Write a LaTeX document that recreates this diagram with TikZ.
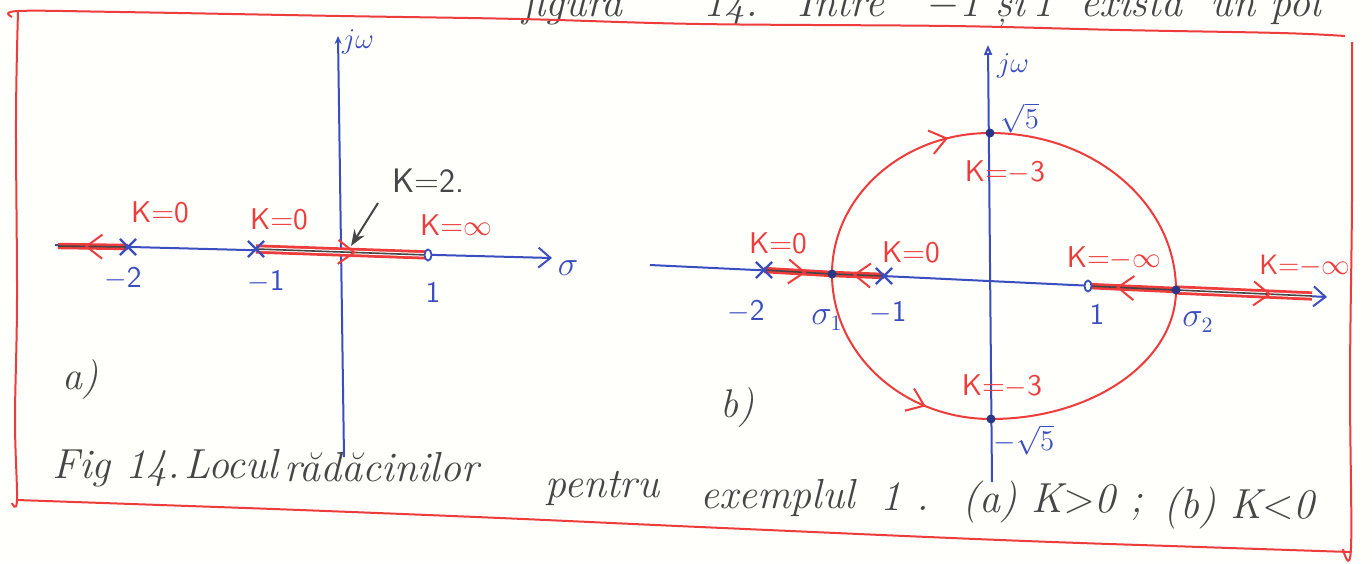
\documentclass[tikz,border=0pt]{standalone}
\usetikzlibrary{arrows.meta,decorations.markings,shapes.misc,shapes.geometric}
\definecolor{axblue}{RGB}{58,78,192}
\definecolor{locred}{RGB}{238,60,60}
\definecolor{ink}{RGB}{70,70,70}
\definecolor{paper}{RGB}{255,255,251}
\pgfdeclarelayer{back}
\pgfdeclarelayer{paperlayer}
\pgfsetlayers{paperlayer,back,main}
\tikzset{
  axisline/.style={axblue, line width=1pt},
  axbarb/.style={-{Straight Barb[length=6pt,width=10pt,line width=1pt]}},
  xmk/.style={cross out, draw=axblue, line width=1.1pt, minimum size=7pt, inner sep=0pt},
  omk/.style={ellipse, draw=axblue, line width=0.9pt, fill=paper, minimum width=3.5pt, minimum height=5.5pt, inner sep=0pt},
  dotmk/.style={circle, fill=axblue!70!black, minimum size=4.5pt, inner sep=0pt},
  bluelbl/.style={text=axblue, font=\sffamily\fontsize{15}{15}\selectfont, inner sep=0pt},
  redlbl/.style={text=locred, font=\sffamily\fontsize{15}{15}\selectfont, inner sep=0pt},
  inklbl/.style={text=ink, font=\itshape\fontsize{21}{21}\selectfont, inner sep=0pt, anchor=base west},
  toplbl/.style={text=ink, font=\itshape\fontsize{21}{21}\selectfont, inner sep=0pt, anchor=base west},
  locus/.style={locred, line width=1pt},
  band/.style={locred, line width=3.2pt},
  core/.style={ink, line width=0.8pt},
  frame/.style={locred, line width=1pt},
  chev/.style={postaction={decorate, decoration={markings,
      mark=at position #1 with {\arrow[locred,line width=1pt]{Straight Barb[length=8pt,width=12pt]}}}}},
}
\begin{document}
\begin{tikzpicture}[x=0.5pt,y=-0.5pt]
\useasboundingbox (0,0) rectangle (1372,563);
\begin{pgfonlayer}{paperlayer}
  \fill[paper] (0,0) rectangle (1372,563);
\end{pgfonlayer}

% text above the frame (cut off by the page edge)
\node[toplbl] (t1) at (522,16) {figura};
\node[toplbl] (t2) at (703,16) {14.};
\node[toplbl] (t3) at (797,16) {Între};
\node[toplbl] (t4) at (927,16) {$-$1 și};
\node[toplbl] (t5) at (1032,16) {1};
\node[toplbl] (t6) at (1080,16) {există};
\node[toplbl] (t7) at (1210,16) {un};
\node[toplbl] (t8) at (1270,16) {pol};

% red frame
\draw[frame] plot[smooth, tension=0.6] coordinates {(12,17) (18,11) (120,12) (340,16) (520,19) (700,24) (950,26) (1120,30) (1280,33) (1345,36)};
\draw[frame] plot[smooth, tension=0.6] coordinates {(18,12) (16,120) (17,300) (15,420) (17,500) (12,503)};
\draw[frame] plot[smooth, tension=0.6] coordinates {(1352,42) (1352,200) (1350,380) (1351,548) (1343,549)};
\draw[frame] plot[smooth, tension=0.6] coordinates {(17,500) (160,505) (300,510) (500,518) (700,527) (1000,540) (1200,547) (1350,552)};

% ---------------- panel a ----------------
\coordinate (aL) at (55,245);
\coordinate (aR) at (552,258);
\coordinate (aB) at (344,457);
\coordinate (aT) at (338,36);
\coordinate (aend) at (58,246);
\node[xmk] (am2) at (128,247) {};
\node[xmk] (am1) at (256,249) {};
\node[omk] (ap1) at (428,255) {};

\begin{pgfonlayer}{back}
  \draw[axisline, axbarb] (aL) -- (aR);
  \draw[axisline, -{Stealth[length=4pt,width=3.5pt]}] (aB) -- (aT);
  \draw[band] (am2.center) -- (aend);
  \draw[core] (am2.center) -- (aend);
  \path[chev=0.62] (am2.center) -- (aend);
  \draw[locred, line width=4.6pt] (am1.center) -- (ap1.center);
  \draw[white, line width=1.8pt] (am1.center) -- (ap1.center);
  \draw[core] (am1.center) -- (ap1.center);
  \path[chev=0.58] (am1.center) -- (ap1.center);
\end{pgfonlayer}

\node[text=axblue, font=\fontsize{14}{14}\selectfont] (ajw) at (358,42) {$j\omega$};
\node[bluelbl] (lm2a) at (123,279) {$-$2};
\node[bluelbl] (lm1a) at (266,282) {$-$1};
\node[bluelbl] (lp1a) at (433,292) {1};
\node[text=axblue, font=\fontsize{16}{16}\selectfont] (sga) at (568,268) {$\sigma$};

\node[redlbl] (ka1) at (160,212) {K=0};
\node[redlbl] (ka2) at (279,219) {K=0};
\node[redlbl] (ka3) at (456,225) {K=$\infty$};
\node[text=ink, font=\sffamily\fontsize{17}{17}\selectfont] (k2) at (428,181) {K=2.};
\coordinate (k2tip) at (351,246);
\draw[ink, line width=1pt, -{Stealth[length=8pt,width=6pt]}] (378,203) -- (k2tip);
\node[text=ink, font=\itshape\fontsize{20}{20}\selectfont] (alab) at (80,380) {a)};

% ---------------- panel b ----------------
\coordinate (bL) at (650,265);
\coordinate (bR) at (1327,297);
\coordinate (bB) at (992,482);
\coordinate (bT) at (988,45);
\coordinate (bend) at (1312,296);
\node[xmk] (bm2) at (764,270) {};
\node[dotmk] (s1) at (832,274) {};
\node[xmk] (bm1) at (884,276) {};
\node[omk] (bp1) at (1088,286) {};
\node[dotmk] (s2) at (1176,290) {};
\node[dotmk] (btop) at (990,133) {};
\node[dotmk] (bbot) at (991,419) {};

\begin{pgfonlayer}{back}
  \draw[axisline, axbarb] (bL) -- (bR);
  \draw[axisline, -{Triangle[open,length=5pt,width=4pt]}] (bB) -- (bT);
  % root-locus circle
  \draw[locus, chev=0.82] (s1.center) .. controls +(0,-78) and +(-87,0) .. (btop.center);
  \draw[locus] (btop.center) .. controls +(103,0) and +(0,-87) .. (s2.center);
  \draw[locus, chev=0.72] (s1.center) .. controls +(0,80) and +(-88,0) .. (bbot.center);
  \draw[locus] (bbot.center) .. controls +(102,0) and +(0,71) .. (s2.center);
  % real-axis branches
  \draw[band] (bm2.center) -- (s1.center);
  \draw[core] (bm2.center) -- (s1.center);
  \path[chev=0.62] (bm2.center) -- (s1.center);
  \draw[band] (bm1.center) -- (s1.center);
  \draw[core] (bm1.center) -- (s1.center);
  \path[chev=0.6] (bm1.center) -- (s1.center);
  \draw[band] (s2.center) -- (bp1.center);
  \draw[core] (s2.center) -- (bp1.center);
  \path[chev=0.68] (s2.center) -- (bp1.center);
  \draw[locred, line width=4.6pt] (s2.center) -- (bend);
  \draw[white, line width=1.8pt] (s2.center) -- (bend);
  \draw[core] (s2.center) -- (bend);
  \path[chev=0.7] (s2.center) -- (bend);
\end{pgfonlayer}

\node[text=axblue, font=\fontsize{14}{14}\selectfont] (bjw) at (1013,66) {$j\omega$};
\node[text=axblue, font=\fontsize{15}{15}\selectfont] (r5) at (1020,118) {$\sqrt{5}$};
\node[text=axblue, font=\fontsize{15}{15}\selectfont, inner sep=0pt] (mr5) at (1024,440) {$-\sqrt{5}$};
\node[bluelbl] (lm2b) at (746,312) {$-$2};
\node[text=axblue, font=\fontsize{16}{16}\selectfont] (ls1) at (827,320) {$\sigma_1$};
\node[bluelbl] (lm1b) at (888,313) {$-$1};
\node[bluelbl] (lp1b) at (1097,314) {1};
\node[text=axblue, font=\fontsize{16}{16}\selectfont] (ls2) at (1198,322) {$\sigma_2$};

\node[redlbl] (kb1) at (778,243) {K=0};
\node[redlbl] (kb2) at (911,252) {K=0};
\node[redlbl] (kb3) at (1114,258) {K=$-\infty$};
\node[redlbl, font=\sffamily\fontsize{14}{14}\selectfont] (kb4) at (1305,266) {K=$-\infty$};
\node[redlbl] (kb5) at (1005,172) {K=$-$3};
\node[redlbl] (kb6) at (1002,386) {K=$-$3};
\node[text=ink, font=\itshape\fontsize{20}{20}\selectfont] (blab) at (737,408) {b)};

% ---------------- caption ----------------
\node[inklbl] (c1) at (52,478) {Fig 14.};
\node[inklbl] (c2) at (184,478) {Locul};
\node[inklbl] (c3) at (284,481) {rădăcinilor};
\node[inklbl] (c4) at (545,497) {pentru};
\node[inklbl] (c5) at (700,508) {exemplul};
\node[inklbl] (c6) at (880,510) {1 .};
\node[inklbl] (c7) at (962,512) {(a) K$>$0 ;};
\node[inklbl] (c8) at (1163,518) {(b) K$<$0};
\end{tikzpicture}
\end{document}
